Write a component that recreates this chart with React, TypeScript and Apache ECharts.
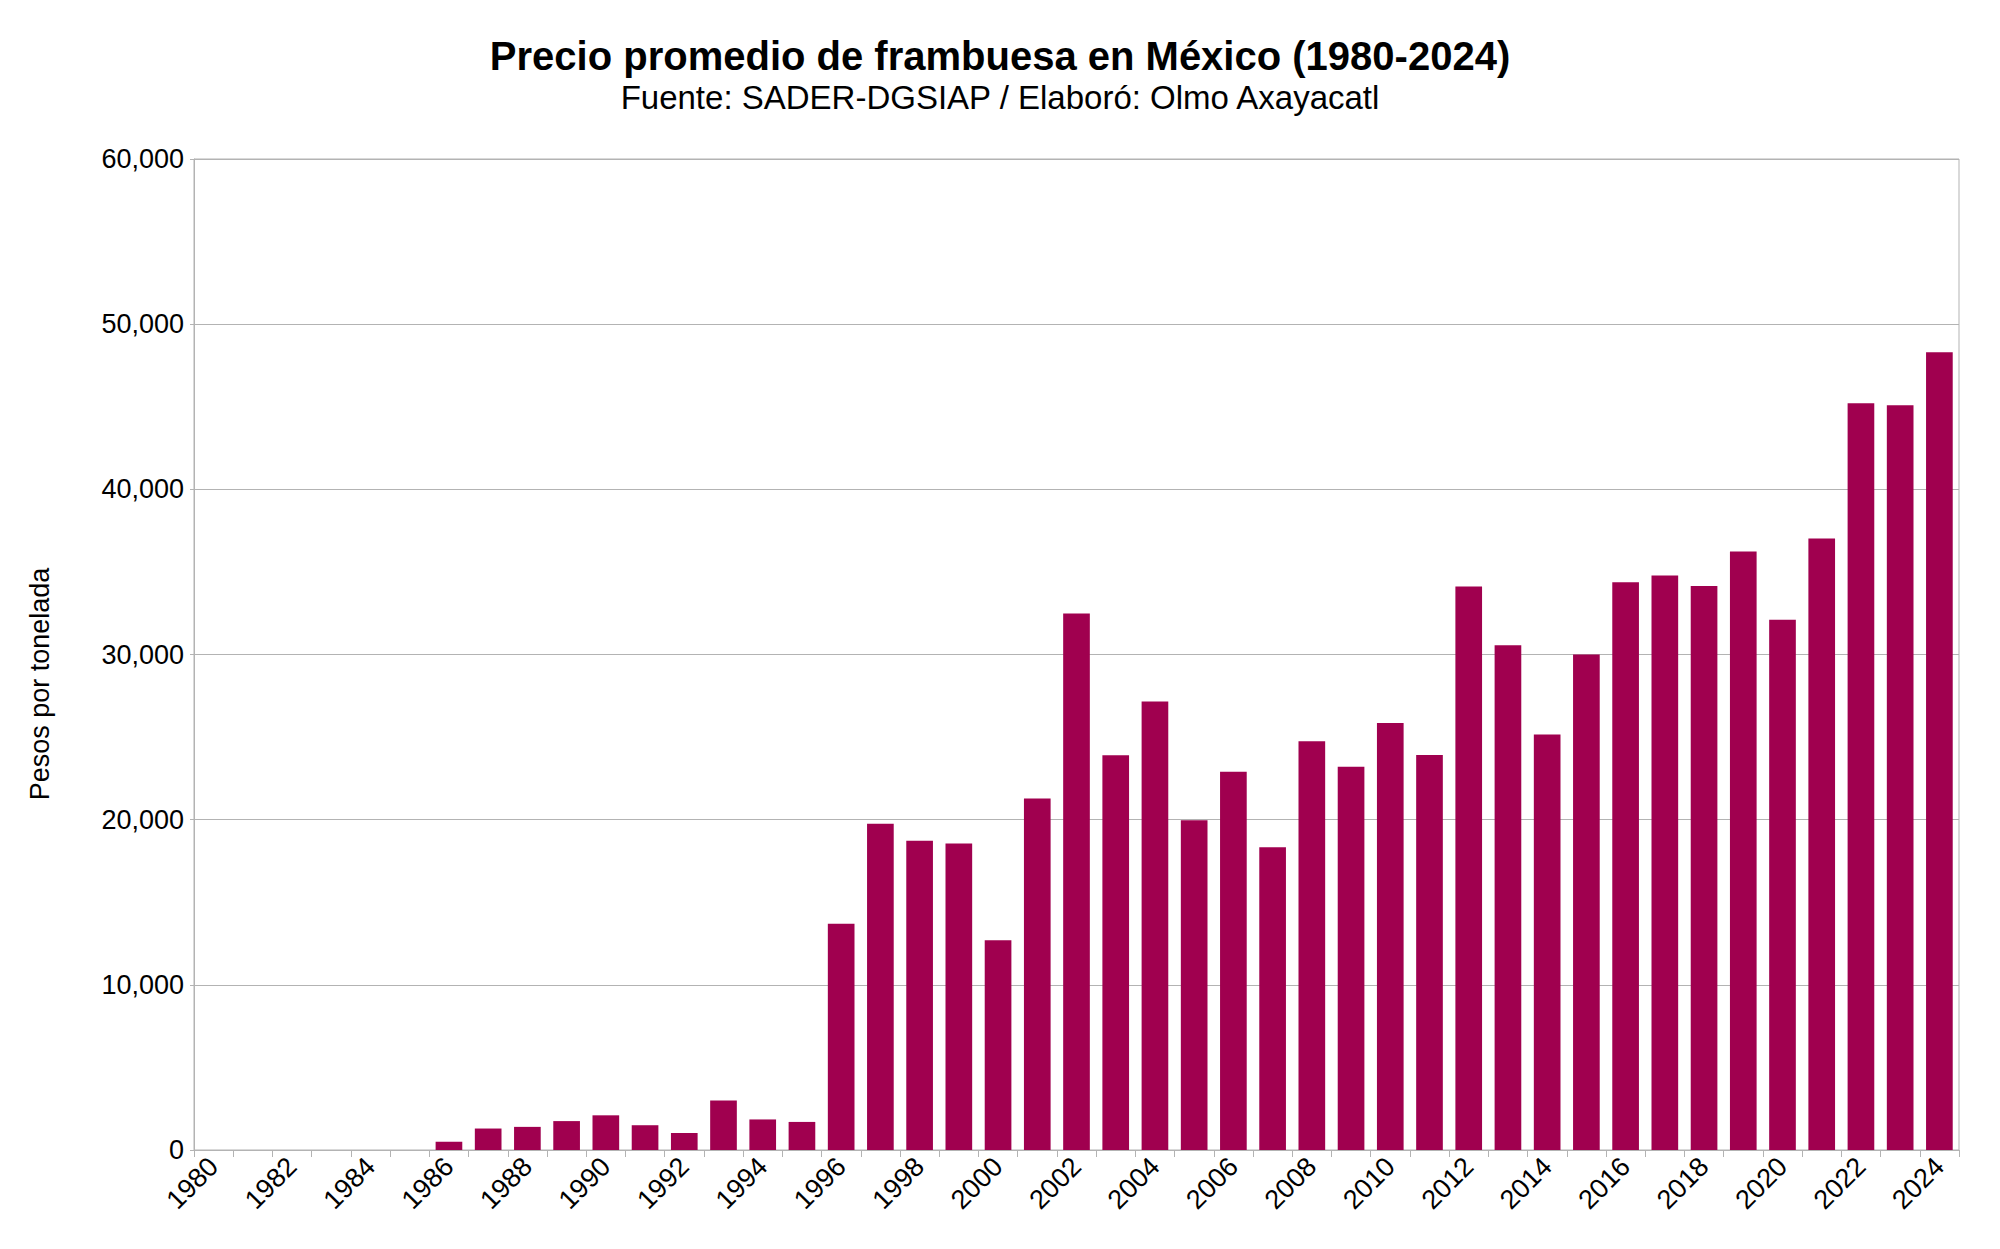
import React, { useEffect, useRef } from "react";
import * as echarts from "echarts";

const years: string[] = [
  "1980", "1981", "1982", "1983", "1984", "1985", "1986", "1987", "1988", "1989",
  "1990", "1991", "1992", "1993", "1994", "1995", "1996", "1997", "1998", "1999",
  "2000", "2001", "2002", "2003", "2004", "2005", "2006", "2007", "2008", "2009",
  "2010", "2011", "2012", "2013", "2014", "2015", "2016", "2017", "2018", "2019",
  "2020", "2021", "2022", "2023", "2024",
];

// Average price, pesos per tonne
const prices: number[] = [
  0, 0, 0, 0, 0, 0, 500, 1300, 1400, 1750,
  2100, 1500, 1030, 3000, 1850, 1700, 13700, 19750, 18720, 18560,
  12700, 21280, 32480, 23900, 27150, 19970, 22900, 18330, 24750, 23200,
  25850, 23920, 34120, 30560, 25150, 30000, 34380, 34790, 34140, 36240,
  32100, 37030, 45210, 45090, 48300,
];

const title = "Precio promedio de frambuesa en México (1980-2024)";
const subtitle = "Fuente: SADER-DGSIAP / Elaboró: Olmo Axayacatl";
const yName = "Pesos por tonelada";

const FONT = "'Liberation Sans', Arial, sans-serif";

export default function App() {
  const ref = useRef<HTMLDivElement>(null);

  useEffect(() => {
    if (!ref.current) return;
    const chart = echarts.init(ref.current, undefined, { renderer: "svg" });
    chart.setOption({
      animation: false,
      backgroundColor: "#ffffff",
      textStyle: { fontFamily: FONT },
      title: [
        {
          text: title,
          left: "center",
          top: 31,
          textStyle: { fontFamily: FONT, fontSize: 40, fontWeight: "bold", color: "#000" },
        },
        {
          text: subtitle,
          left: "center",
          top: 76,
          textStyle: { fontFamily: FONT, fontSize: 33, fontWeight: "normal", color: "#000" },
        },
      ],
      graphic: [
        {
          type: "text",
          x: 40,
          y: 684,
          rotation: Math.PI / 2,
          style: {
            text: yName,
            fontFamily: FONT,
            fontSize: 27,
            fill: "#000",
            align: "center",
            verticalAlign: "middle",
          },
        },
      ],
      grid: {
        left: 194,
        right: 41,
        top: 159,
        bottom: 99,
        show: true,
        borderColor: "#b3b3b3",
        borderWidth: 1,
      },
      xAxis: {
        type: "category",
        data: years,
        boundaryGap: true,
        axisLine: { show: true, lineStyle: { color: "#b3b3b3", width: 1 } },
        axisTick: { show: true, interval: 0, length: 7, lineStyle: { color: "#b3b3b3" } },
        axisLabel: {
          interval: 1,
          rotate: 45,
          margin: 12,
          fontFamily: FONT,
          fontSize: 27,
          color: "#000",
        },
        splitLine: { show: false },
      },
      yAxis: {
        type: "value",
        min: 0,
        max: 60000,
        interval: 10000,
        axisLine: { show: true, lineStyle: { color: "#b3b3b3", width: 1 } },
        axisTick: { show: true, length: 4, lineStyle: { color: "#b3b3b3" } },
        axisLabel: {
          margin: 10,
          fontFamily: FONT,
          fontSize: 27,
          color: "#000",
          formatter: (v: number) => v.toLocaleString("en-US"),
        },
        splitLine: { show: true, lineStyle: { color: "#b3b3b3", width: 1 } },
      },
      series: [
        {
          type: "bar",
          data: prices,
          barCategoryGap: "32%",
          itemStyle: { color: "#a0004f" },
        },
      ],
    });
    return () => chart.dispose();
  }, []);

  return (
    <div
      ref={ref}
      style={{ position: "fixed", left: 0, top: 0, width: 2000, height: 1249 }}
    />
  );
}
